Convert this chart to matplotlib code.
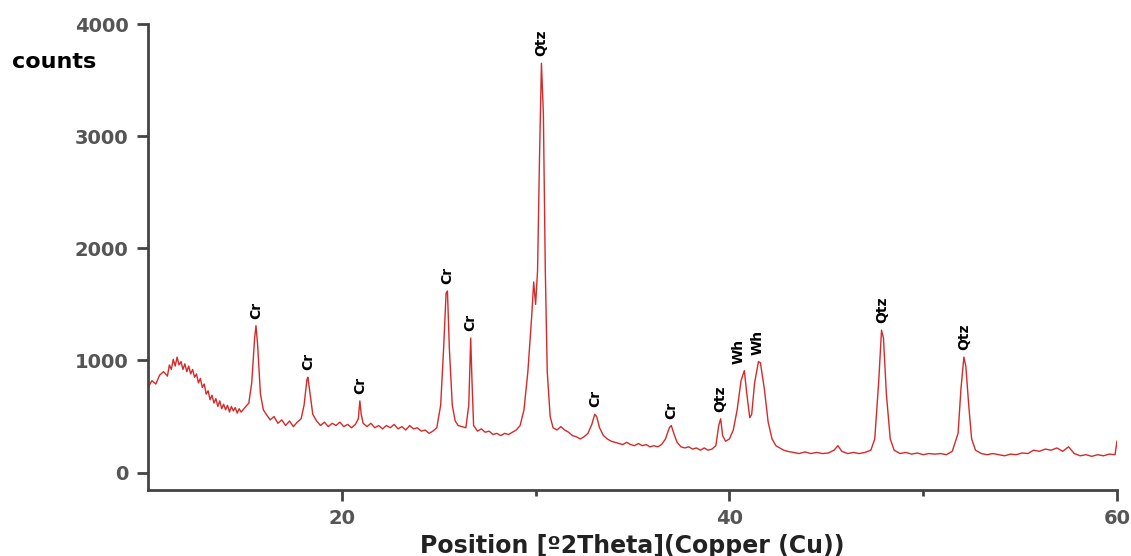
import matplotlib
matplotlib.use("Agg")
import matplotlib.pyplot as plt
import numpy as np

# 2theta positions and counts
two_theta = [10.0, 10.2, 10.4, 10.6, 10.8, 11.0, 11.1, 11.2, 11.3, 11.4, 11.5, 11.6, 11.7, 11.8, 11.9,
             12.0, 12.1, 12.2, 12.3, 12.4, 12.5, 12.6, 12.7, 12.8, 12.9, 13.0, 13.1, 13.2, 13.3, 13.4,
             13.5, 13.6, 13.7, 13.8, 13.9, 14.0, 14.1, 14.2, 14.3, 14.4, 14.5, 14.6, 14.7, 14.8, 15.0,
             15.2, 15.35, 15.5, 15.57, 15.65, 15.8, 15.95, 16.1, 16.3, 16.5, 16.7, 16.9, 17.1, 17.3, 17.5,
             17.7, 17.9, 18.05, 18.2, 18.25, 18.35, 18.5, 18.7, 18.9, 19.1, 19.3, 19.5, 19.7, 19.9, 20.1,
             20.3, 20.5, 20.7, 20.85, 20.93, 21.0, 21.1, 21.3, 21.5, 21.7, 21.9, 22.1, 22.3, 22.5, 22.7,
             22.9, 23.1, 23.3, 23.5, 23.7, 23.9, 24.1, 24.3, 24.5, 24.7, 24.9, 25.1, 25.25, 25.38, 25.45,
             25.55, 25.7, 25.85, 26.0, 26.2, 26.4, 26.55, 26.65, 26.72, 26.8, 27.0, 27.2, 27.4, 27.6, 27.8,
             28.0, 28.2, 28.4, 28.6, 28.8, 29.0, 29.2, 29.4, 29.6, 29.8, 29.9, 30.0, 30.1, 30.2, 30.3,
             30.4, 30.5, 30.6, 30.75, 30.9, 31.1, 31.3, 31.5, 31.7, 31.9, 32.1, 32.3, 32.5, 32.7, 32.9,
             33.05, 33.15, 33.3, 33.5, 33.7, 33.9, 34.1, 34.3, 34.5, 34.7, 34.9, 35.1, 35.3, 35.5, 35.7,
             35.9, 36.1, 36.3, 36.5, 36.7, 36.9, 37.0, 37.15, 37.3, 37.5, 37.7, 37.9, 38.1, 38.3, 38.5,
             38.7, 38.9, 39.1, 39.3, 39.45, 39.55, 39.65, 39.8, 40.0, 40.2, 40.4, 40.6, 40.77, 40.9, 41.05,
             41.15, 41.3, 41.5, 41.6, 41.8, 42.0, 42.2, 42.4, 42.6, 42.8, 43.0, 43.3, 43.6, 43.9, 44.2,
             44.5, 44.8, 45.1, 45.4, 45.6, 45.8, 46.1, 46.4, 46.7, 47.0, 47.3, 47.5, 47.7, 47.85, 47.95,
             48.1, 48.3, 48.5, 48.8, 49.1, 49.4, 49.7, 50.0, 50.3, 50.6, 50.9, 51.2, 51.5, 51.8, 51.95,
             52.1, 52.2, 52.35, 52.5, 52.7, 53.0, 53.3, 53.6, 53.9, 54.2, 54.5, 54.8, 55.1, 55.4, 55.7,
             56.0, 56.3, 56.6, 56.9, 57.2, 57.5, 57.8, 58.1, 58.4, 58.7, 59.0, 59.3, 59.6, 59.9, 60.0]
counts = [760, 820, 790, 870, 900, 860, 960, 920, 1010, 950, 1030, 960, 990, 920, 970,
          900, 950, 880, 920, 850, 880, 800, 840, 760, 790, 700, 730, 650, 690, 620,
          660, 590, 640, 570, 610, 560, 600, 540, 590, 550, 580, 530, 570, 540, 580,
          620, 800, 1200, 1310, 1150, 700, 560, 520, 470, 500, 440, 470, 420, 460, 410,
          450, 480, 600, 830, 850, 720, 520, 460, 420, 450, 410, 440, 420, 450, 410,
          430, 400, 430, 480, 640, 520, 440, 410, 440, 400, 420, 390, 420, 400, 430,
          390, 410, 380, 420, 390, 400, 370, 380, 350, 370, 400, 600, 1100, 1600, 1620,
          1100, 600, 460, 420, 410, 400, 600, 1200, 800, 420, 370, 390, 360, 370, 340,
          350, 330, 350, 340, 360, 380, 420, 560, 900, 1400, 1700, 1500, 1800, 2800, 3650,
          3200, 1800, 900, 500, 400, 380, 410, 380, 360, 330, 320, 300, 320, 350, 430,
          520, 500, 400, 330, 300, 280, 270, 260, 250, 270, 250, 240, 260, 240, 250,
          230, 240, 230, 250, 300, 400, 420, 340, 270, 230, 220, 230, 210, 220, 200,
          220, 200, 210, 240, 420, 480, 330, 280, 300, 380, 560, 820, 910, 700, 490,
          520, 800, 990, 980, 750, 450, 300, 240, 220, 200, 190, 180, 170, 185, 170,
          180, 170, 175, 200, 240, 190, 170, 180, 170, 180, 200, 300, 800, 1270, 1200,
          700, 300, 200, 170, 180, 165, 175, 160, 170, 165, 170, 160, 190, 350, 750,
          1030, 950, 600, 300, 200, 170, 160, 170, 160, 150, 165, 160, 175, 170, 200,
          190, 210, 200, 220, 190, 230, 170, 150, 160, 145, 160, 150, 165, 160, 280]

# phase labels: position, peak height, name
label_x = [15.57, 18.25, 20.93, 25.45, 26.65, 30.3, 33.1, 37.0, 39.55, 40.45, 41.45, 47.9, 52.1]
label_y = [1310, 850, 640, 1620, 1200, 3650, 520, 420, 480, 910, 990, 1270, 1030]
label_txt = ['Cr', 'Cr', 'Cr', 'Cr', 'Cr', 'Qtz', 'Cr', 'Cr', 'Qtz', 'Wh', 'Wh', 'Qtz', 'Qtz']

fig = plt.figure(figsize=(11.31, 5.56), dpi=100)
ax = fig.add_axes([0.1309, 0.1187, 0.8567, 0.8381])

ax.plot(two_theta, counts, color='#d42a2a', lw=1.0)

for x, y, t in zip(label_x, label_y, label_txt):
    ax.annotate(t, xy=(x, y), xytext=(0, 5), textcoords='offset points',
                rotation=90, ha='center', va='bottom', fontsize=10, fontweight='bold')

ax.set_xlim(10, 60)
ax.set_ylim(-155, 4000)
ax.set_xticks([20, 40, 60])
ax.set_xticks([30, 50], minor=True)
ax.set_yticks([0, 1000, 2000, 3000, 4000])

for s in ['top', 'right']:
    ax.spines[s].set_visible(False)
for s in ['left', 'bottom']:
    ax.spines[s].set_color('#444444')
    ax.spines[s].set_linewidth(2)

ax.tick_params(axis='both', which='major', direction='out', length=8, width=2,
               color='#444444', labelcolor='#555555', labelsize=14, pad=6)
ax.tick_params(axis='x', which='minor', direction='out', length=4, width=2, color='#444444')
for lab in ax.get_xticklabels() + ax.get_yticklabels():
    lab.set_fontweight('bold')

ax.set_xlabel('Position [º2Theta](Copper (Cu))', fontsize=17, fontweight='bold',
              color='#222222', labelpad=4)
fig.text(12 / 1131, 1 - 62 / 556, 'counts', fontsize=16, fontweight='bold',
         ha='left', va='center', color='black')

fig.savefig('out.png', dpi=100)
